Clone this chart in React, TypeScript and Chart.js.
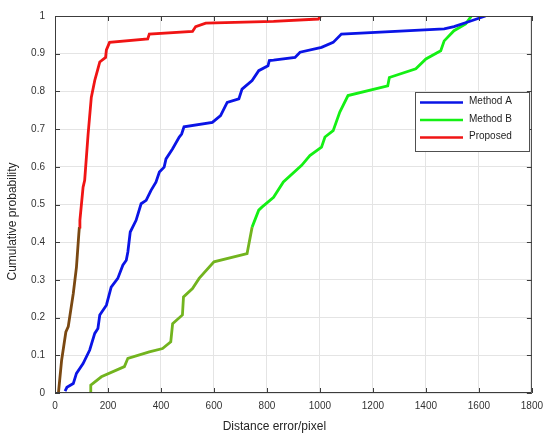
import React, { useEffect, useRef } from "react";
import { Chart, registerables } from "chart.js";

Chart.register(...registerables);

const xTicks = [0, 200, 400, 600, 800, 1000, 1200, 1400, 1600, 1800];
const yTicks = [0, 0.1, 0.2, 0.3, 0.4, 0.5, 0.6, 0.7, 0.8, 0.9, 1];

const seriesLabels = ["Method A", "Method B", "Proposed"];

const methodAX = [38, 45, 69, 81, 106, 131, 150, 162, 169, 194, 212, 237, 256, 269, 275, 284, 306, 325, 344, 362, 381, 394, 412, 419, 444, 469, 478, 487, 594, 625, 650, 694, 706, 744, 769, 804, 809, 825, 906, 925, 1006, 1050, 1081, 1469, 1506, 1575, 1625];
const methodAY = [0.005, 0.015, 0.025, 0.052, 0.078, 0.114, 0.158, 0.171, 0.207, 0.233, 0.281, 0.304, 0.339, 0.352, 0.374, 0.427, 0.458, 0.502, 0.511, 0.537, 0.559, 0.586, 0.599, 0.621, 0.648, 0.679, 0.687, 0.706, 0.718, 0.736, 0.771, 0.78, 0.806, 0.829, 0.855, 0.868, 0.882, 0.883, 0.89, 0.904, 0.917, 0.93, 0.952, 0.966, 0.972, 0.988, 1.0];

const methodBX = [135, 135, 175, 262, 275, 356, 406, 437, 444, 481, 485, 519, 544, 600, 725, 744, 769, 781, 825, 862, 931, 962, 1006, 1019, 1050, 1075, 1106, 1256, 1262, 1362, 1400, 1456, 1469, 1506, 1550, 1572];
const methodBY = [0, 0.021, 0.043, 0.07, 0.092, 0.109, 0.118, 0.136, 0.184, 0.207, 0.255, 0.277, 0.304, 0.348, 0.37, 0.44, 0.485, 0.493, 0.519, 0.56, 0.604, 0.63, 0.652, 0.679, 0.696, 0.745, 0.789, 0.815, 0.837, 0.86, 0.886, 0.908, 0.934, 0.961, 0.979, 1.0];

const proposedX = [13, 25, 41, 50, 69, 81, 90, 92, 94, 106, 112, 125, 137, 150, 162, 169, 191, 194, 206, 350, 356, 519, 531, 569, 825, 994, 1003];
const proposedY = [0, 0.087, 0.162, 0.176, 0.264, 0.334, 0.423, 0.44, 0.458, 0.546, 0.564, 0.687, 0.784, 0.829, 0.86, 0.878, 0.89, 0.91, 0.93, 0.939, 0.952, 0.959, 0.972, 0.981, 0.986, 0.992, 1.0];

const colors = ["#0a14e6", "#14f014", "#f01414"];
const lowColors = ["#0a14e6", "#72b41e", "#7a4812"];
const SPLIT = 0.445;

const FONT = "Arial, 'Liberation Sans', Helvetica, sans-serif";

function toPoints(xs: number[], ys: number[]) {
  return xs.map((x, i) => ({ x, y: ys[i] }));
}

const framePlugin = {
  id: "frame",
  afterDraw(chart: any) {
    const { ctx, chartArea } = chart;
    const { left, right, top, bottom } = chartArea;
    const xs = chart.scales.x;
    const ys = chart.scales.y;
    ctx.save();
    ctx.strokeStyle = "#3c3c3c";
    ctx.lineWidth = 1;
    ctx.beginPath();
    ctx.rect(left + 0.5, top + 0.5, right - left - 1, bottom - top - 1);
    ctx.stroke();
    const tl = 5;
    ctx.beginPath();
    xTicks.forEach((v) => {
      const px = Math.round(xs.getPixelForValue(v)) + 0.5;
      ctx.moveTo(px, bottom);
      ctx.lineTo(px, bottom - tl);
      ctx.moveTo(px, top);
      ctx.lineTo(px, top + tl);
    });
    yTicks.forEach((v) => {
      const py = Math.round(ys.getPixelForValue(v)) + 0.5;
      ctx.moveTo(left, py);
      ctx.lineTo(left + tl, py);
      ctx.moveTo(right, py);
      ctx.lineTo(right - tl, py);
    });
    ctx.stroke();

    // axis titles
    ctx.fillStyle = "#262626";
    ctx.font = `12px ${FONT}`;
    ctx.textAlign = "center";
    ctx.textBaseline = "middle";
    ctx.fillText("Distance error/pixel", left + (right - left) * 0.46, 427);
    ctx.save();
    ctx.translate(13, top + (bottom - top) * 0.545);
    ctx.rotate(-Math.PI / 2);
    ctx.fillText("Cumulative probability", 0, 0);
    ctx.restore();

    // legend
    const lx = 415, ly = 92, lw = 114, lh = 59;
    ctx.fillStyle = "#ffffff";
    ctx.fillRect(lx, ly, lw, lh);
    ctx.strokeStyle = "#505050";
    ctx.lineWidth = 1;
    ctx.strokeRect(lx + 0.5, ly + 0.5, lw, lh);
    ctx.font = `10px ${FONT}`;
    ctx.textAlign = "left";
    ctx.textBaseline = "middle";
    chart.data.datasets.forEach((ds: any, i: number) => {
      const ry = ly + 10.5 + i * 17.5;
      ctx.strokeStyle = colors[i];
      ctx.lineWidth = 2.5;
      ctx.beginPath();
      ctx.moveTo(lx + 5, ry);
      ctx.lineTo(lx + 48, ry);
      ctx.stroke();
      ctx.fillStyle = "#1e1e1e";
      ctx.fillText(ds.label, lx + 54, ry - 1);
    });
    ctx.restore();
  },
};

export default function App() {
  const ref = useRef<HTMLCanvasElement | null>(null);
  useEffect(() => {
    document.body.style.margin = "0";
    if (!ref.current) return;
    const seriesData = [
      toPoints(methodAX, methodAY),
      toPoints(methodBX, methodBY),
      toPoints(proposedX, proposedY),
    ];
    const chart = new Chart(ref.current, {
      type: "line",
      data: {
        datasets: seriesData.map((d, i) => ({
          label: seriesLabels[i],
          data: d,
          borderColor: colors[i],
          borderWidth: 2.8,
          pointRadius: 0,
          tension: 0,
          fill: false,
          segment: {
            borderColor: (c: any) =>
              c.p1.parsed.y <= SPLIT ? lowColors[i] : colors[i],
          },
        })),
      },
      options: {
        animation: false,
        responsive: false,
        parsing: false as any,
        layout: { padding: { left: 0, top: 15, right: 15, bottom: 0 } },
        plugins: {
          legend: { display: false },
          tooltip: { enabled: false },
        },
        scales: {
          x: {
            type: "linear",
            min: 0,
            max: 1800,
            afterFit: (s: any) => {
              s.height = 45;
            },
            afterBuildTicks: (s: any) => {
              s.ticks = xTicks.map((v) => ({ value: v }));
            },
            grid: { color: "#e4e4e4", drawTicks: false },
            border: { display: false },
            ticks: {
              padding: 7,
              color: "#333333",
              font: { family: FONT, size: 10 },
              maxRotation: 0,
              callback: (v: any) => String(Math.round(Number(v))),
            },
          },
          y: {
            type: "linear",
            min: 0,
            max: 1,
            afterFit: (s: any) => {
              s.width = 55;
            },
            afterBuildTicks: (s: any) => {
              s.ticks = yTicks.map((v) => ({ value: v }));
            },
            grid: { color: "#e4e4e4", drawTicks: false },
            border: { display: false },
            ticks: {
              padding: 10,
              color: "#333333",
              font: { family: FONT, size: 10 },
              callback: (v: any) => String(Math.round(Number(v) * 10) / 10),
            },
          },
        },
      },
      plugins: [framePlugin],
    });
    return () => chart.destroy();
  }, []);
  return (
    <div style={{ width: 550, height: 438 }}>
      <canvas ref={ref} width={550} height={438} style={{ display: "block" }} />
    </div>
  );
}
